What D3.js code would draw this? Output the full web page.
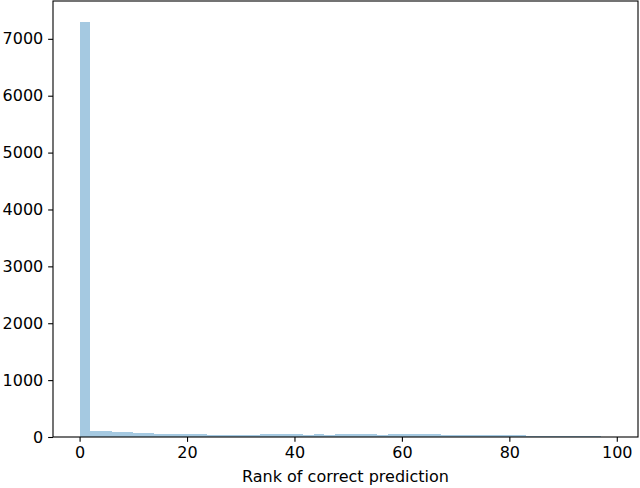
<!DOCTYPE html>
<html><head><meta charset="utf-8">
<script src="https://cdn.jsdelivr.net/npm/d3@7"></script>
<style>
body{margin:0;background:#fff;}
svg{display:block;font-family:"DejaVu Sans",sans-serif;}
</style></head>
<body><svg id="c" width="640" height="488"></svg>
<script>
// 50 histogram bins over rank 0..99 (bin width 1.98)
const binStart = 0;
const binEnd = 99;
const binCounts = [7300, 110, 100, 85, 80, 68, 62, 56, 50, 52, 48, 44, 40, 40, 36, 42, 40, 46, 50, 48,
                   46, 42, 50, 42, 46, 48, 48, 52, 42, 46, 48, 50, 54, 46, 40, 40, 34, 40, 40, 34,
                   36, 28, 24, 20, 20, 18, 14, 12, 10, 8];
const xTicks = [0, 20, 40, 60, 80, 100];
const yTicks = [0, 1000, 2000, 3000, 4000, 5000, 6000, 7000];
const xLabel = "Rank of correct prediction";

const svg = d3.select("#c");
const L = 53, R = 638, T = 1, B = 437;
const nb = binCounts.length;
const bw = (binEnd - binStart) / nb;
const bins = binCounts.map((c, i) => ({x0: binStart + i * bw, x1: binStart + (i + 1) * bw, c}));
const pad = (binEnd - binStart) * 0.05;
const x = d3.scaleLinear().domain([binStart - pad, binEnd + pad]).range([L, R]);
const ymax = d3.max(binCounts) * 1.05;
const y = d3.scaleLinear().domain([0, ymax]).range([B, T]);

svg.append("g").selectAll("rect").data(bins).join("rect")
  .attr("x", d => x(d.x0)).attr("width", d => x(d.x1) - x(d.x0))
  .attr("y", d => y(d.c)).attr("height", d => B - y(d.c))
  .attr("fill", "#1f77b4").attr("fill-opacity", 0.4)
  .attr("shape-rendering", "crispEdges");

const xa = svg.append("g").attr("transform", `translate(0,${B})`)
  .call(d3.axisBottom(x).tickValues(xTicks).tickFormat(d3.format("d")).tickSize(4.86).tickPadding(4.5));
const ya = svg.append("g").attr("transform", `translate(${L},0)`)
  .call(d3.axisLeft(y).tickValues(yTicks).tickFormat(d3.format("d")).tickSize(4.86).tickPadding(4.86));
[xa, ya].forEach(a => {
  a.select(".domain").remove();
  a.selectAll("line").attr("stroke", "#000").attr("stroke-width", 1.1);
  a.selectAll("text").attr("font-size", 16).attr("fill", "#000").attr("font-family", "DejaVu Sans");
});

svg.append("rect").attr("x", L).attr("y", T).attr("width", R - L).attr("height", B - T)
  .attr("fill", "none").attr("stroke", "#000").attr("stroke-width", 1.1);

svg.append("text").attr("x", (L + R) / 2).attr("y", 482)
  .attr("text-anchor", "middle").attr("font-size", 16).attr("fill", "#000")
  .text(xLabel);
</script></body></html>
